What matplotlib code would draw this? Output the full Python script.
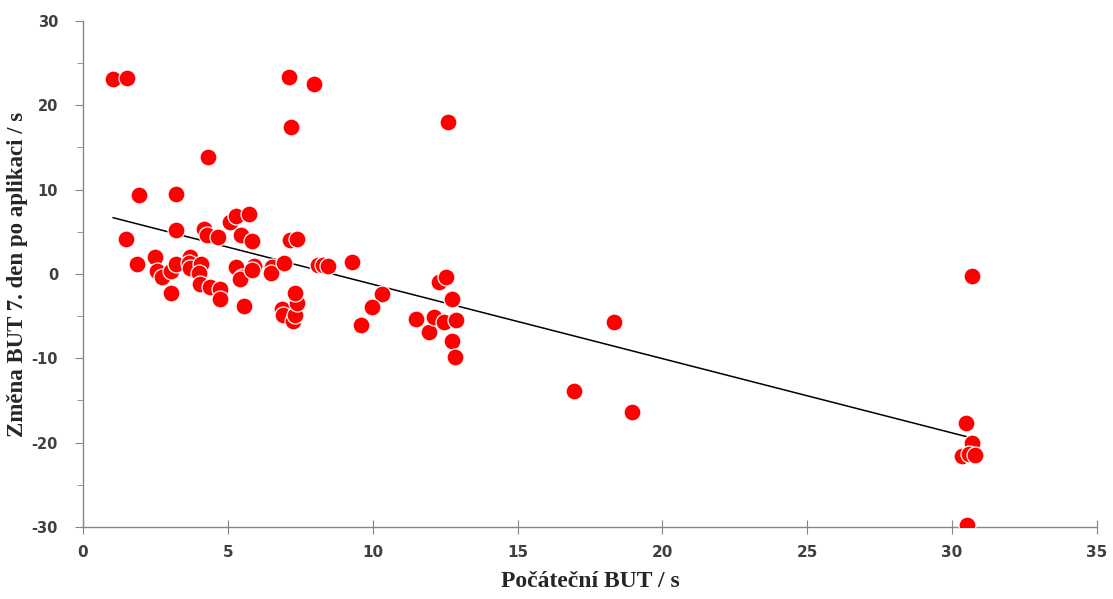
import numpy as np
import matplotlib
matplotlib.use('Agg')
import matplotlib.pyplot as plt
from matplotlib.ticker import MultipleLocator

plt.rcParams['axes.unicode_minus'] = False

# hodnoty
but_start = [1.04, 1.52, 1.47, 1.93, 1.87, 2.47, 2.55, 2.73, 3.05, 3.05,
             3.22, 3.20, 3.22, 3.68, 3.66, 3.70, 4.08, 3.99, 4.05, 4.37,
             4.72, 4.72, 4.31, 4.17, 4.28, 4.66, 5.06, 5.27, 5.73, 5.46,
             5.84, 5.27, 5.50, 5.41, 5.56, 5.89, 5.84, 6.51, 6.48, 6.95,
             6.88, 6.91, 7.24, 7.32, 7.37, 7.31, 7.13, 7.37, 7.11, 7.97,
             7.18, 8.12, 8.29, 8.47, 9.30, 10.33, 9.97, 9.60, 11.49, 11.94,
             12.13, 12.47, 12.88, 12.75, 12.29, 12.52, 12.75, 12.84, 12.60, 16.95,
             18.33, 18.95, 30.48, 30.67, 30.33, 30.59, 30.79, 30.52, 30.69]
but_change = [23.1, 23.2, 4.1, 9.4, 1.2, 2.0, 0.3, -0.3, 0.4, -2.3,
              9.5, 5.2, 1.2, 2.0, 1.35, 0.68, 1.2, 0.16, -1.2, -1.5,
              -1.8, -3.0, 13.85, 5.3, 4.6, 4.35, 6.2, 6.9, 7.1, 4.6,
              3.95, 0.8, -0.3, -0.6, -3.75, 0.95, 0.47, 0.87, 0.15, 1.35,
              -4.1, -4.9, -5.6, -4.9, -3.4, -2.3, 4.0, 4.1, 23.4, 22.5,
              17.4, 1.07, 1.07, 0.9, 1.4, -2.4, -3.9, -6.05, -5.3, -6.9,
              -5.1, -5.7, -5.4, -3.0, -1.0, -0.3, -8.0, -9.9, 18.0, -13.9,
              -5.7, -16.4, -17.7, -20.0, -21.6, -21.4, -21.5, -29.8, -0.2]

x = np.array(but_start)
y = np.array(but_change)

fig = plt.figure(figsize=(11.13, 5.99), dpi=100)
ax = fig.add_axes([0.0746, 0.1202, 0.9110, 0.8448])

ax.scatter(x, y, s=150, c='#ff0000', edgecolors='white', linewidths=0.9, zorder=3)

# lineární trend
k, q = np.polyfit(x, y, 1)
xl = np.array([x.min(), x.max()])
ax.plot(xl, k * xl + q, color='black', linewidth=1.1, zorder=2)

ax.set_xlim(0, 35)
ax.set_ylim(-30, 30)
ax.xaxis.set_major_locator(MultipleLocator(5))
ax.yaxis.set_major_locator(MultipleLocator(10))
ax.yaxis.set_minor_locator(MultipleLocator(5))

for s in ['top', 'right']:
    ax.spines[s].set_visible(False)
for s in ['left', 'bottom']:
    ax.spines[s].set_color('#868686')
    ax.spines[s].set_linewidth(1.0)

ax.tick_params(axis='x', direction='inout', length=10, color='#868686',
               labelsize=11, labelcolor='#404040', pad=8)
ax.tick_params(axis='y', which='major', direction='out', length=6, color='#868686',
               labelsize=10.5, labelcolor='#404040', pad=12)
ax.tick_params(axis='y', which='minor', direction='out', length=4, color='#868686')
for lab in ax.get_xticklabels() + ax.get_yticklabels():
    lab.set_fontweight('bold')

ax.set_xlabel('Počáteční BUT / s', fontsize=17, fontweight='bold',
              family='Liberation Serif', color='#262626', labelpad=8)
ax.set_ylabel('Změna BUT 7. den po aplikaci / s', fontsize=16.5, fontweight='bold',
              family='Liberation Serif', color='#262626')
ax.yaxis.set_label_coords(-0.054, 0.5)

fig.savefig('out.png', dpi=100)
